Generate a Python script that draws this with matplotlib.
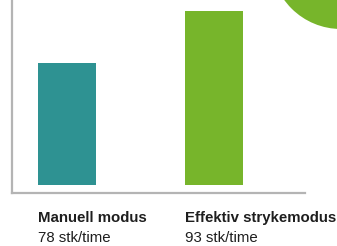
import matplotlib

matplotlib.use("Agg")
import matplotlib.pyplot as plt
from matplotlib.patches import Circle

# Data
modes = ["Manuell modus", "Effektiv strykemodus"]
rates = [78, 93]
rate_labels = ["78 stk/time", "93 stk/time"]
colours = ["#2E9292", "#77B52B"]
baseline = 43  # bars start here, not at zero

plt.rcParams["font.family"] = ["Liberation Sans", "DejaVu Sans"]

fig = plt.figure(figsize=(3.37, 2.46), dpi=100)
ax = fig.add_axes([12 / 337, 53 / 246, 293 / 337, 193 / 246])

x = list(range(len(modes)))
ax.bar(x, [r - baseline for r in rates], bottom=baseline, width=0.40,
       color=colours, linewidth=0)

ax.set_xlim(-0.374, 1.619)
ax.set_ylim(40.7, 96.2)
ax.set_xticks([])
ax.set_yticks([])
for side in ("top", "right"):
    ax.spines[side].set_visible(False)
for side in ("left", "bottom"):
    ax.spines[side].set_color("#B4B4B4")
    ax.spines[side].set_linewidth(1.6)

# category labels under the axis
for xi, name, lab in zip(x, modes, rate_labels):
    left = xi - 0.20
    ax.annotate(name, xy=(left, 0), xycoords=("data", "axes fraction"),
                xytext=(0, -21), textcoords="offset points",
                ha="left", va="baseline", fontsize=10.8, fontweight="bold",
                color="#1E1E1E", annotation_clip=False)
    ax.annotate(lab, xy=(left, 0), xycoords=("data", "axes fraction"),
                xytext=(0, -35.5), textcoords="offset points",
                ha="left", va="baseline", fontsize=10.8,
                color="#1E1E1E", annotation_clip=False)

# decorative green circle in the top right corner
fig.add_artist(Circle((3.41, (246 + 41) / 100), 0.70, color="#77B52B",
                      transform=fig.dpi_scale_trans, linewidth=0))

fig.savefig("out.png", dpi=100)
